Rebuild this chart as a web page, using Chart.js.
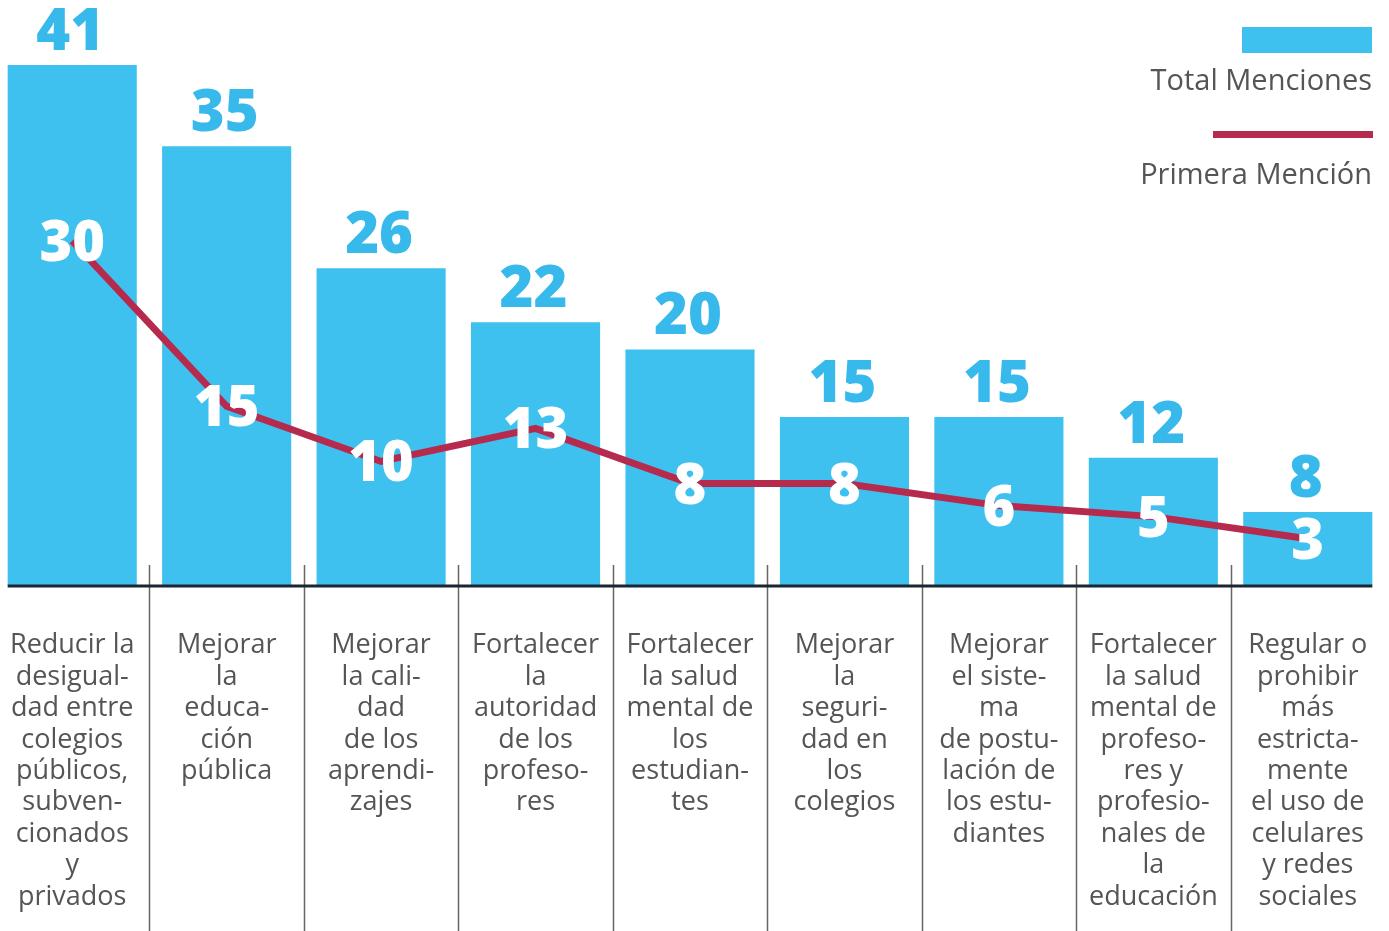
<!DOCTYPE html>
<html>
<head>
<meta charset="utf-8">
<script src="https://cdn.jsdelivr.net/npm/chart.js@4.4.1/dist/chart.umd.min.js"></script>
<style>
  html, body { margin: 0; padding: 0; background: #fff; overflow: hidden; }
  #wrap { position: absolute; left: -5px; top: 0; width: 1390px; height: 931px; }
  .legTxt { position: absolute; right: 17px; font-family: "Open Sans", sans-serif; font-size: 29px; color: #555; line-height: 1; white-space: nowrap; }
  .legBox { position: absolute; right: 17px; top: 27px; width: 130px; height: 26px; background: #3fc1f0; }
  .legLine { position: absolute; right: 16px; top: 131px; width: 160px; height: 7px; background: #b62a4e; }
</style>
</head>
<body>
<div id="wrap"><canvas id="grafico"></canvas></div>
<div class="legBox"></div>
<div class="legTxt" style="top:64px">Total Menciones</div>
<div class="legLine"></div>
<div class="legTxt" style="top:158px">Primera Mención</div>

<script>
// categorias (texto partido en lineas como en el original)
const categorias = [
  ["Reducir la", "desigual-", "dad entre", "colegios", "públicos,", "subven-", "cionados", "y", "privados"],
  ["Mejorar", "la", "educa-", "ción", "pública"],
  ["Mejorar", "la cali-", "dad", "de los", "aprendi-", "zajes"],
  ["Fortalecer", "la", "autoridad", "de los", "profeso-", "res"],
  ["Fortalecer", "la salud", "mental de", "los", "estudian-", "tes"],
  ["Mejorar", "la", "seguri-", "dad en", "los", "colegios"],
  ["Mejorar", "el siste-", "ma", "de postu-", "lación de", "los estu-", "diantes"],
  ["Fortalecer", "la salud", "mental de", "profeso-", "res y", "profesio-", "nales de", "la", "educación"],
  ["Regular o", "prohibir", "más", "estricta-", "mente", "el uso de", "celulares", "y redes", "sociales"]
];
const totalMenciones = [41, 35, 26, 22, 20, 15, 15, 12, 8];
const primeraMencion = [30, 15, 10, 13, 8, 8, 6, 5, 3];

const AZUL = "#3fc1f0";
const AZUL_TXT = "#38b9ec";
const ROJO = "#b62a4e";

const etiquetas = {
  id: "etiquetas",
  afterDatasetsDraw(chart) {
    const ctx = chart.ctx;
    const area = chart.chartArea;
    const barras = chart.getDatasetMeta(0).data;
    const puntos = chart.getDatasetMeta(1).data;
    ctx.save();
    // separadores verticales
    ctx.strokeStyle = "#666";
    ctx.lineWidth = 1.5;
    for (let i = 0; i < barras.length - 1; i++) {
      const xm = Math.round((barras[i].x + barras[i + 1].x) / 2) + 0.5;
      ctx.beginPath();
      ctx.moveTo(xm, area.bottom - 20);
      ctx.lineTo(xm, chart.height);
      ctx.stroke();
    }
    // linea base
    const b0 = barras[0], bN = barras[barras.length - 1];
    ctx.strokeStyle = "#1b2633";
    ctx.lineWidth = 3;
    ctx.beginPath();
    ctx.moveTo(b0.x - b0.width / 2, area.bottom + 1);
    ctx.lineTo(bN.x + bN.width / 2, area.bottom + 1);
    ctx.stroke();
    // valores totales
    ctx.textAlign = "center";
    ctx.textBaseline = "alphabetic";
    ctx.font = "800 58px 'Open Sans'";
    ctx.fillStyle = AZUL_TXT;
    barras.forEach(function(b, i) {
      ctx.fillText(String(totalMenciones[i]), b.x - 2, b.y - 15);
    });
    // valores primera mencion
    ctx.font = "800 56px 'Open Sans'";
    ctx.fillStyle = "#fff";
    puntos.forEach(function(p, i) {
      ctx.fillText(String(primeraMencion[i]), p.x, p.y + 20);
    });
    ctx.restore();
  }
};

const ctx = document.getElementById("grafico").getContext("2d");
new Chart(ctx, {
  data: {
    labels: categorias,
    datasets: [
      { type: "bar", label: "Total Menciones", data: totalMenciones, backgroundColor: AZUL,
        barPercentage: 0.836, categoryPercentage: 1, yAxisID: "y", order: 2 },
      { type: "line", label: "Primera Mención", data: primeraMencion, borderColor: ROJO, borderWidth: 7,
        pointRadius: 0, tension: 0, fill: false, yAxisID: "y2", order: 1 }
    ]
  },
  options: {
    responsive: true,
    maintainAspectRatio: false,
    animation: false,
    layout: { padding: { top: 65, left: 0, right: 0, bottom: 0 } },
    plugins: { legend: { display: false }, tooltip: { enabled: false } },
    scales: {
      x: {
        grid: { display: false, drawTicks: false, tickLength: 0 },
        border: { display: false },
        ticks: { padding: 45, autoSkip: false, maxRotation: 0, minRotation: 0, color: "#555",
          font: { family: "'Open Sans'", size: 27, lineHeight: 31.4 / 27 } },
        afterFit: function(s) { s.height = 346; s.paddingLeft = 0; s.paddingRight = 0; }
      },
      y: { display: false, min: 2.6, max: 41 },
      y2: { display: false, min: -1.2, max: 45.95 }
    }
  },
  plugins: [etiquetas]
});
</script>
</body>
</html>
